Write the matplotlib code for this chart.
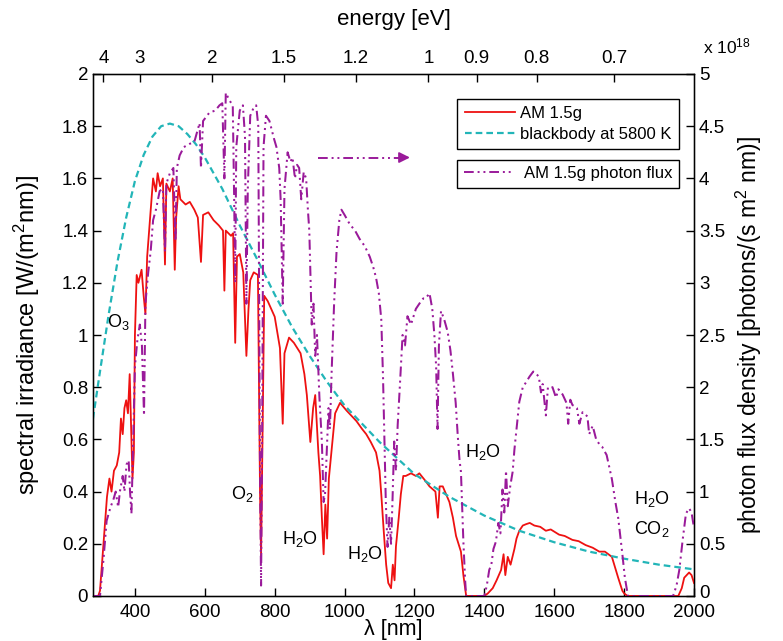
import matplotlib
matplotlib.use("Agg")
import matplotlib.pyplot as plt
import matplotlib.transforms as mtransforms
from matplotlib.lines import Line2D

plt.rcParams['font.family'] = ['Liberation Sans', 'DejaVu Sans']
plt.rcParams['mathtext.fontset'] = 'custom'
plt.rcParams['mathtext.rm'] = 'Liberation Sans'
plt.rcParams['mathtext.it'] = 'Liberation Sans'

# ---------------- data ----------------
am15_wl = [280, 295, 300, 310, 320, 327, 333, 340, 348, 355, 360, 365, 370, 375, 380, 385, 390,
           393, 397, 400, 405, 410, 419, 425, 430, 435, 443, 452, 460, 465, 472, 480, 486, 490,
           500, 508, 514, 518, 525, 530, 545, 557, 570, 580, 589, 595, 610, 625, 640, 652, 656,
           660, 675, 681, 687, 692, 700, 710, 719, 725, 730, 740, 752, 758, 761, 765, 770, 780,
           800, 815, 823, 828, 841, 855, 874, 885, 892, 902, 910, 916, 925, 930, 935, 940, 945,
           950, 955, 960, 967, 973, 987, 1006, 1020, 1034, 1050, 1062, 1075, 1090, 1100, 1105,
           1112, 1119, 1125, 1133, 1138, 1143, 1147, 1155, 1161, 1168, 1175, 1190, 1204, 1214,
           1232, 1243, 1260, 1267, 1272, 1281, 1300, 1310, 1319, 1333, 1340, 1348, 1400, 1410,
           1424, 1435, 1448, 1455, 1460, 1467, 1475, 1486, 1492, 1500, 1510, 1519, 1530, 1543,
           1560, 1576, 1590, 1614, 1630, 1652, 1670, 1690, 1710, 1729, 1745, 1765, 1783, 1795,
           1800, 1810, 1955, 1965, 1972, 1986, 1993, 2000]
am15_irr = [0, 0, 0.02, 0.20, 0.38, 0.45, 0.40, 0.48, 0.50, 0.55, 0.68, 0.62, 0.72, 0.75, 0.70,
            0.85, 0.60, 0.45, 0.55, 1.00, 1.23, 1.20, 1.25, 1.15, 1.08, 1.30, 1.44, 1.60, 1.55,
            1.62, 1.57, 1.60, 1.27, 1.58, 1.55, 1.60, 1.25, 1.45, 1.57, 1.52, 1.50, 1.51, 1.48,
            1.45, 1.28, 1.46, 1.47, 1.44, 1.42, 1.40, 1.17, 1.40, 1.38, 1.39, 0.97, 1.30, 1.31,
            1.24, 0.92, 1.10, 1.21, 1.24, 1.23, 0.40, 0.15, 0.60, 1.15, 1.13, 1.07, 0.95, 0.66,
            0.93, 0.99, 0.97, 0.93, 0.85, 0.77, 0.59, 0.72, 0.77, 0.55, 0.46, 0.30, 0.16, 0.35,
            0.22, 0.45, 0.52, 0.62, 0.70, 0.74, 0.71, 0.69, 0.67, 0.64, 0.62, 0.59, 0.55, 0.48,
            0.39, 0.25, 0.12, 0.05, 0.03, 0.12, 0.06, 0.19, 0.30, 0.39, 0.46, 0.46, 0.47, 0.46,
            0.47, 0.44, 0.42, 0.40, 0.30, 0.42, 0.42, 0.36, 0.30, 0.23, 0.17, 0.08, 0.0, 0.0,
            0.01, 0.03, 0.06, 0.10, 0.16, 0.08, 0.15, 0.12, 0.18, 0.22, 0.25, 0.27, 0.275, 0.28,
            0.27, 0.265, 0.25, 0.255, 0.235, 0.23, 0.215, 0.21, 0.195, 0.185, 0.17, 0.17, 0.15,
            0.07, 0.02, 0.01, 0, 0, 0.03, 0.07, 0.09, 0.08, 0.05]

bb_wl = [280, 300, 325, 350, 375, 400, 425, 450, 475, 500, 525, 550, 575, 600, 650, 700, 750,
         800, 850, 900, 950, 1000, 1100, 1200, 1300, 1400, 1500, 1600, 1700, 1800, 1900, 2000]
bb_irr = [0.68, 0.86, 1.08, 1.28, 1.45, 1.59, 1.69, 1.76, 1.80, 1.81, 1.80, 1.77, 1.73, 1.68,
          1.56, 1.42, 1.29, 1.155, 1.03, 0.92, 0.82, 0.73, 0.59, 0.467, 0.38, 0.308, 0.25,
          0.206, 0.17, 0.143, 0.12, 0.102]

flux_wl = [280, 300, 310, 319, 330, 338, 345, 352, 357, 365, 370, 376, 382, 386, 390, 395, 400,
           407, 414, 420, 426, 430, 438, 445, 452, 460, 471, 480, 486, 490, 500, 510, 516, 520,
           528, 540, 556, 570, 585, 589, 595, 613, 630, 642, 650, 656, 660, 670, 680, 684, 687,
           690, 700, 709, 715, 719, 723, 730, 740, 747, 753, 758, 761, 764, 768, 775, 785, 798,
           805, 813, 817, 823, 828, 837, 845, 851, 858, 864, 870, 876, 883, 890, 895, 899, 902,
           906, 911, 916, 921, 928, 935, 940, 944, 948, 954, 958, 963, 970, 977, 985, 991, 1000,
           1015, 1030, 1043, 1058, 1072, 1082, 1090, 1098, 1105, 1110, 1114, 1118, 1123, 1128,
           1133, 1137, 1142, 1147, 1152, 1158, 1166, 1173, 1180, 1190, 1204, 1214, 1225, 1232,
           1243, 1251, 1257, 1262, 1266, 1270, 1276, 1285, 1295, 1303, 1310, 1318, 1324, 1329,
           1333, 1337, 1340, 1345, 1348, 1400, 1407, 1414, 1420, 1426, 1433, 1440, 1446, 1452,
           1457, 1462, 1467, 1474, 1481, 1486, 1490, 1495, 1500, 1510, 1520, 1529, 1540, 1548,
           1556, 1562, 1567, 1576, 1582, 1595, 1605, 1612, 1624, 1635, 1640, 1646, 1652, 1665,
           1672, 1681, 1695, 1700, 1710, 1720, 1730, 1737, 1750, 1765, 1775, 1783, 1795, 1802,
           1811, 1940, 1950, 1958, 1968, 1977, 1986, 1993, 2000]
flux_val = [0, 0, 0.35, 0.72, 0.85, 0.92, 1.0, 0.85, 1.0, 1.15, 1.0, 1.26, 1.3, 1.0, 0.79, 1.5,
            2.2, 2.45, 2.6, 2.4, 1.73, 2.8, 3.1, 3.3, 3.6, 3.7, 3.88, 3.9, 3.3, 3.95, 4.05, 4.1,
            3.4, 4.1, 4.22, 4.3, 4.33, 4.35, 4.53, 4.1, 4.55, 4.63, 4.65, 4.7, 4.72, 4.0, 4.82,
            4.75, 4.7, 3.8, 3.0, 4.3, 4.65, 4.7, 4.4, 2.8, 3.9, 4.6, 4.68, 4.7, 4.5, 1.2, 0.1,
            1.5, 4.3, 4.6, 4.55, 4.38, 4.3, 4.1, 3.8, 2.8, 3.9, 4.25, 4.16, 4.2, 4.0, 4.13, 4.1,
            3.8, 4.06, 4.0, 3.7, 3.5, 3.1, 2.6, 2.8, 2.3, 2.5, 1.9, 1.48, 0.9, 0.97, 1.3, 1.8,
            1.6, 2.15, 2.8, 3.3, 3.6, 3.7, 3.65, 3.56, 3.5, 3.42, 3.35, 3.25, 3.15, 3.05, 2.9,
            2.65, 2.1, 1.48, 0.9, 0.47, 0.75, 0.5, 0.9, 1.48, 1.2, 1.64, 2.0, 2.5, 2.4, 2.68,
            2.6, 2.75, 2.8, 2.85, 2.85, 2.9, 2.75, 2.5, 2.2, 1.6, 2.4, 2.73, 2.65, 2.53, 2.35,
            2.13, 1.85, 1.53, 1.3, 1.19, 0.8, 0.52, 0.15, 0, 0, 0.1, 0.25, 0.3, 0.45, 0.52, 0.7,
            0.6, 1.02, 0.8, 1.2, 0.86, 1.05, 1.19, 1.4, 1.53, 1.7, 1.86, 2.0, 2.05, 2.1, 2.15,
            2.13, 2.1, 1.95, 2.03, 1.73, 2.0, 2.0, 1.9, 1.98, 1.93, 1.85, 1.65, 1.88, 1.83, 1.8,
            1.65, 1.76, 1.72, 1.55, 1.63, 1.5, 1.45, 1.43, 1.35, 1.12, 0.9, 0.75, 0.4, 0.18, 0,
            0, 0.1, 0.25, 0.55, 0.79, 0.84, 0.8, 0.65]

x_ticks = [400, 600, 800, 1000, 1200, 1400, 1600, 1800, 2000]
left_ticks = [0, 0.2, 0.4, 0.6, 0.8, 1, 1.2, 1.4, 1.6, 1.8, 2]
left_labels = ['0', '0.2', '0.4', '0.6', '0.8', '1', '1.2', '1.4', '1.6', '1.8', '2']
right_ticks = [0, 0.5, 1, 1.5, 2, 2.5, 3, 3.5, 4, 4.5, 5]
right_labels = ['0', '0.5', '1', '1.5', '2', '2.5', '3', '3.5', '4', '4.5', '5']
energy_ticks = [4, 3, 2, 1.5, 1.2, 1, 0.9, 0.8, 0.7]
energy_labels = ['4', '3', '2', '1.5', '1.2', '1', '0.9', '0.8', '0.7']

# ---------------- styling ----------------
RED = '#EE1111'
CYAN = '#22B5B8'
PURPLE = '#9A1A9A'
DASHDOT = (0, (5, 2, 1, 2, 1, 2))

fig = plt.figure(figsize=(7.83, 6.41), dpi=100)
ax = fig.add_axes([93 / 783, 1 - 596 / 641, (694 - 93) / 783, (596 - 74) / 641])

ax.plot(am15_wl, am15_irr, color=RED, lw=1.3, label='AM 1.5g', zorder=3)
ax.plot(bb_wl, bb_irr, color=CYAN, lw=1.6, ls=(0, (3, 1.8)), label='blackbody at 5800 K', zorder=4)
ax.set_xlim(280, 2000)
ax.set_ylim(0, 2)
ax.set_xticks(x_ticks)
ax.set_yticks(left_ticks)
ax.set_yticklabels(left_labels)
ax.tick_params(direction='in', length=6, width=1, labelsize=13.5, top=False, right=False)
ax.tick_params(axis='x', pad=5.5)
ax.set_xlabel('λ [nm]', fontsize=15.5, labelpad=-1)
ax.set_ylabel('spectral irradiance [W/(m$^2$nm)]', fontsize=17, labelpad=14)
for s in ax.spines.values():
    s.set_linewidth(1.0)

ax2 = ax.twinx()
ax2.plot(flux_wl, flux_val, color=PURPLE, lw=1.45, ls=DASHDOT, label='AM 1.5g photon flux', zorder=2)
ax2.set_ylim(0, 5)
ax2.set_yticks(right_ticks)
ax2.set_yticklabels(right_labels)
ax2.tick_params(direction='in', length=6, width=1, labelsize=13.5)
ax2.set_ylabel('photon flux density [photons/(s m$^2$ nm)]', fontsize=16.5, labelpad=6)
ax2.text(1.015, 1.052, 'x 10$^{18}$', transform=ax2.transAxes, fontsize=12.5, ha='left', va='center')

# nudge the right-hand "0" label up a little so it clears the "2000" label
zero_label = ax2.get_yticklabels()[0]
zero_label.set_transform(zero_label.get_transform() +
                         mtransforms.ScaledTranslation(0, 3 / 72, fig.dpi_scale_trans))

# top energy axis
ax3 = ax.twiny()
ax3.set_xlim(ax.get_xlim())
ax3.set_xticks([1239.84 / e for e in energy_ticks])
ax3.set_xticklabels(energy_labels)
ax3.tick_params(direction='in', length=6, width=1, labelsize=13.5, pad=5)
ax3.set_xlabel('energy [eV]', fontsize=16, labelpad=18)

# arrow showing the photon flux belongs to the right axis
arrow_start, arrow_end, arrow_level = 925, 1195, 1.68
ax.plot([arrow_start, arrow_end - 25], [arrow_level, arrow_level], color=PURPLE, lw=1.4, ls=DASHDOT)
ax.annotate('', xy=(arrow_end, arrow_level), xytext=(arrow_end - 30, arrow_level),
            arrowprops=dict(arrowstyle='-|>', color=PURPLE, lw=1.3, mutation_scale=16))

# absorption labels
fs = 13
ax.text(352, 1.05, 'O$_3$', fontsize=fs, ha='center', va='center')
ax.text(707, 0.39, 'O$_2$', fontsize=fs, ha='center', va='center')
ax.text(873, 0.22, 'H$_2$O', fontsize=fs, ha='center', va='center')
ax.text(1057, 0.16, 'H$_2$O', fontsize=fs, ha='center', va='center')
ax.text(1395, 0.55, 'H$_2$O', fontsize=fs, ha='center', va='center')
ax.text(1880, 0.37, 'H$_2$O', fontsize=fs, ha='center', va='center')
ax.text(1880, 0.255, 'CO$_2$', fontsize=fs, ha='center', va='center')

# legends
h1 = [Line2D([], [], color=RED, lw=1.3), Line2D([], [], color=CYAN, lw=1.6, ls=(0, (3, 1.8)))]
leg1 = ax2.legend(h1, ['AM 1.5g', 'blackbody at 5800 K'], loc='upper left',
                  bbox_to_anchor=(0.606, 0.953), fontsize=12, frameon=True, fancybox=False,
                  edgecolor='black', framealpha=1, handlelength=3.0, handletextpad=0.3,
                  borderpad=0.45, labelspacing=0.35, borderaxespad=0)
leg1.get_frame().set_linewidth(1.0)
ax2.add_artist(leg1)
h2 = [Line2D([], [], color=PURPLE, lw=1.4, ls=DASHDOT)]
leg2 = ax2.legend(h2, ['AM 1.5g photon flux'], loc='upper left',
                  bbox_to_anchor=(0.606, 0.836), fontsize=12, frameon=True, fancybox=False,
                  edgecolor='black', framealpha=1, handlelength=3.0, handletextpad=0.6,
                  borderpad=0.4, borderaxespad=0)
leg2.get_frame().set_linewidth(1.0)

fig.savefig('out.png', dpi=100)
